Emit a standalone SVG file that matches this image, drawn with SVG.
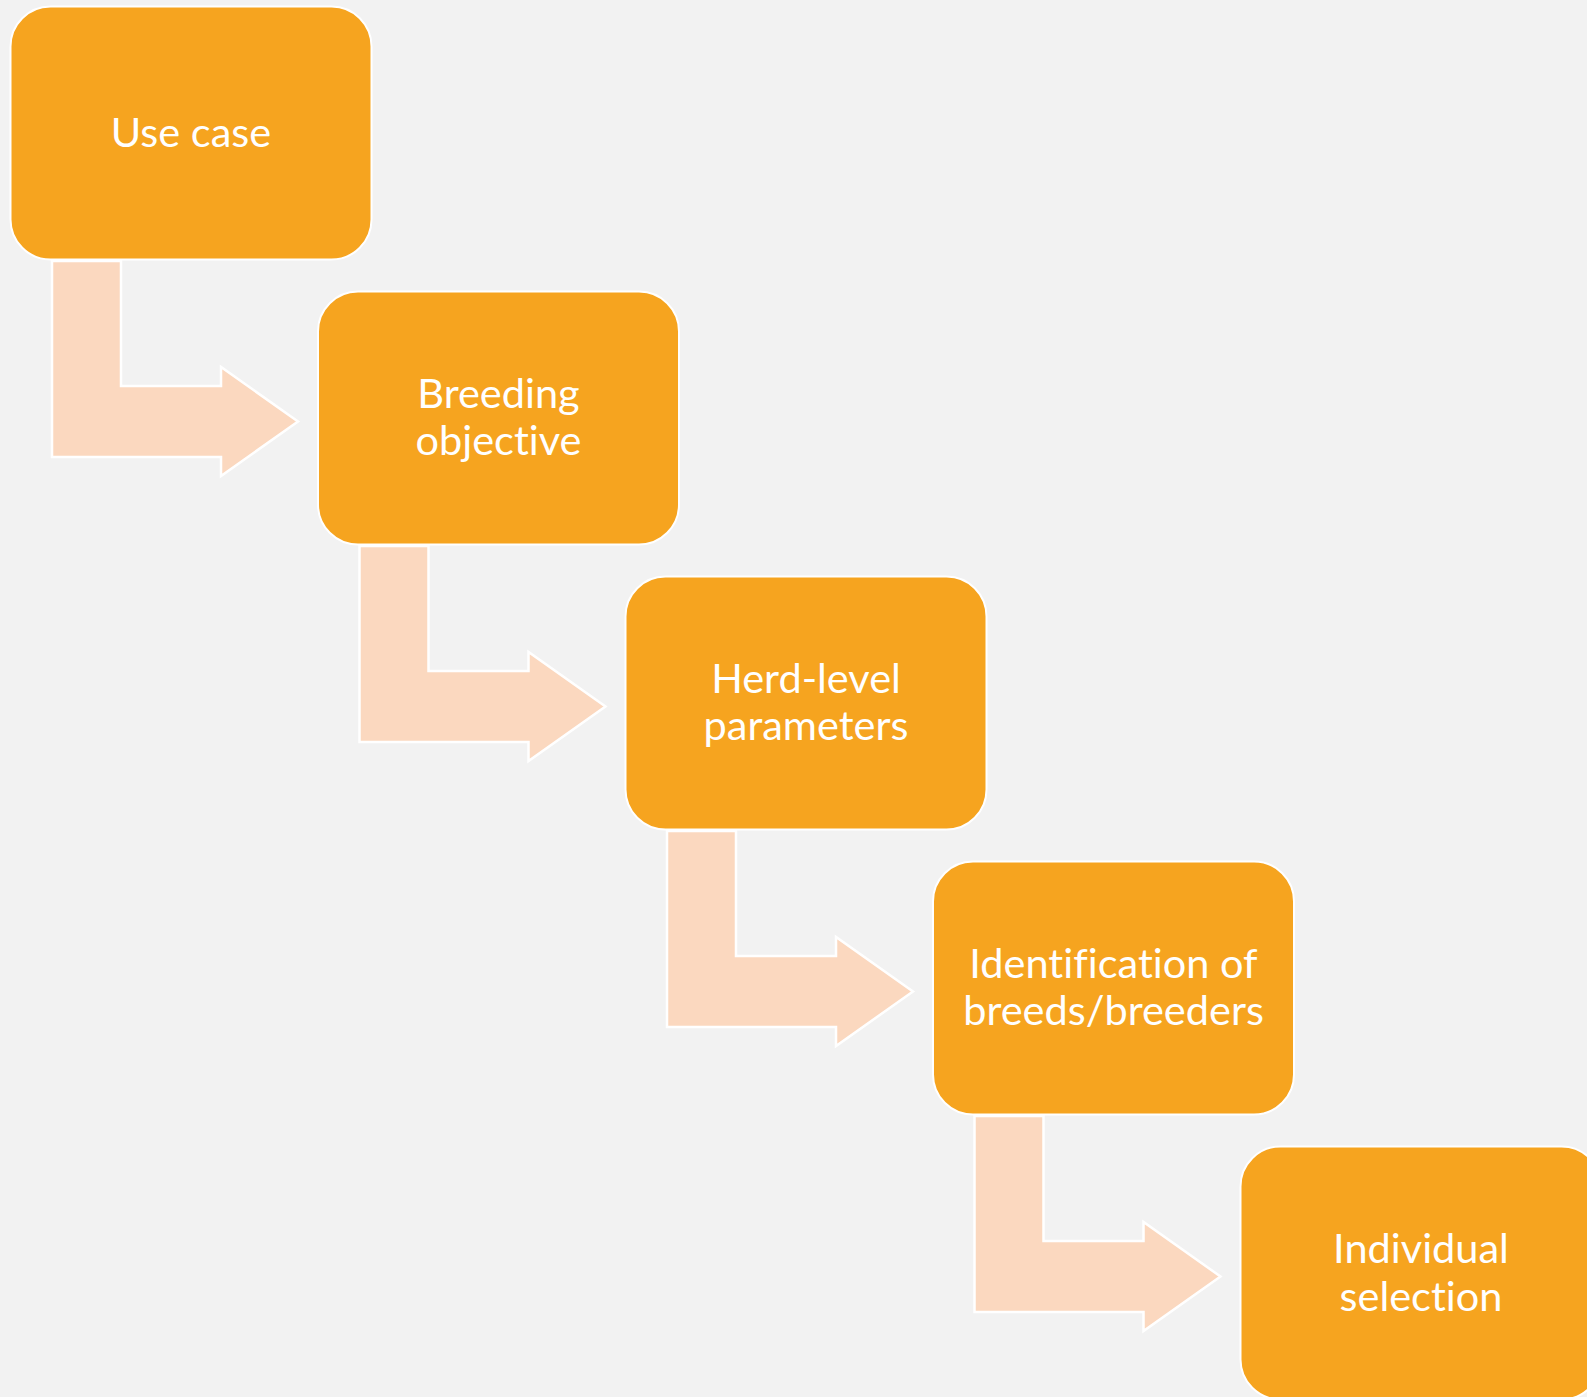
<svg xmlns="http://www.w3.org/2000/svg" width="1587" height="1397" viewBox="0 0 1587 1397">
<style>
.box{fill:#F6A41F;stroke:#FFFFFF;stroke-width:2}
.arr{fill:#FBD8BF;stroke:#FFFFFF;stroke-width:2.5;stroke-linejoin:miter}
.lbl{fill:#FFFFFF;font-family:Lato,"Open Sans","Liberation Sans",sans-serif;font-size:41.5px;text-anchor:middle;font-variant-ligatures:none;font-feature-settings:"liga" 0,"clig" 0,"dlig" 0}
</style>
<defs>
<path id="bent" d="M52,261 L121,261 L121,386 L221,386 L221,367 L298,421.5 L221,476 L221,457 L52,457 Z"/>
</defs>
<rect width="1587" height="1397" fill="#F2F2F2"/>
<g id="connectors">
<use href="#bent" class="arr"/>
<use href="#bent" class="arr" transform="translate(307.5,285)"/>
<use href="#bent" class="arr" transform="translate(615,570)"/>
<use href="#bent" class="arr" transform="translate(922.5,855)"/>
</g>
<g id="node-use-case">
<rect class="box" x="10.5" y="6.5" width="361" height="253" rx="40"/>
<text class="lbl" x="191" y="147">Use case</text>
</g>
<g id="node-breeding-objective">
<rect class="box" x="318" y="291.5" width="361" height="253" rx="40"/>
<text class="lbl" x="498.5" y="408">Breeding</text>
<text class="lbl" x="498.5" y="455">objective</text>
</g>
<g id="node-herd-level">
<rect class="box" x="625.5" y="576.5" width="361" height="253" rx="40"/>
<text class="lbl" x="806" y="693">Herd-level</text>
<text class="lbl" x="806" y="740">parameters</text>
</g>
<g id="node-identification">
<rect class="box" x="933" y="861.5" width="361" height="253" rx="40"/>
<text class="lbl" x="1113.5" y="978">Identification of</text>
<text class="lbl" x="1113.5" y="1025">breeds/breeders</text>
</g>
<g id="node-individual-selection">
<rect class="box" x="1240.5" y="1146.5" width="361" height="253" rx="40"/>
<text class="lbl" x="1421" y="1263">Individual</text>
<text class="lbl" x="1421" y="1311">selection</text>
</g>
</svg>
